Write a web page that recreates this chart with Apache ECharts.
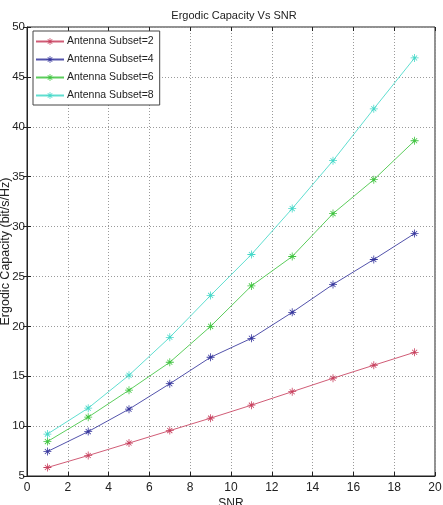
<!DOCTYPE html>
<html>
<head>
<meta charset="utf-8">
<script src="https://cdn.jsdelivr.net/npm/echarts@6/dist/echarts.min.js"></script>
<style>
  html, body { margin: 0; padding: 0; background: #fff; }
  #chart { width: 443px; height: 505px; }
</style>
</head>
<body>
<div id="chart"></div>
<script>
// SNR points where capacity was computed
const snr = [1, 3, 5, 7, 9, 11, 13, 15, 17, 19]
const subset2 = [5.85, 7.05, 8.3, 9.55, 10.8, 12.1, 13.45, 14.8, 16.1, 17.4]
const subset4 = [7.45, 9.45, 11.7, 14.25, 16.9, 18.8, 21.4, 24.2, 26.7, 29.3]
const subset6 = [8.45, 10.9, 13.6, 16.4, 20.0, 24.05, 27.0, 31.3, 34.7, 38.6]
const subset8 = [9.2, 11.8, 15.1, 18.9, 23.1, 27.2, 31.8, 36.6, 41.8, 46.9]
const seriesNames = ['Antenna Subset=2', 'Antenna Subset=4', 'Antenna Subset=6', 'Antenna Subset=8']
const colors = ['#c8405e', '#35359c', '#3fc43f', '#44d8c8']

// matlab style '*' marker
const star = 'path://M4.5 0L5.5 0L5.5 10L4.5 10Z M0 4.5L10 4.5L10 5.5L0 5.5Z M1.5 2.2L2.2 1.5L8.5 7.8L7.8 8.5Z M7.8 1.5L8.5 2.2L2.2 8.5L1.5 7.8Z'
const font = '"Liberation Sans", Arial, sans-serif'

const pairs = (ys) => snr.map((x, i) => [x, ys[i]])
const allData = [subset2, subset4, subset6, subset8]

const chart = echarts.init(document.getElementById('chart'))
const option = {
    animation: false,
    backgroundColor: '#fff',
    color: colors,
    title: {
        text: 'Ergodic Capacity Vs SNR',
        left: 229,
        textAlign: 'center',
        top: 5,
        textStyle: { fontFamily: font, fontSize: 11, fontWeight: 'normal', color: '#222' }
    },
    legend: {
        data: seriesNames,
        orient: 'vertical',
        left: 33,
        top: 31,
        padding: [5, 6, 4, 2],
        itemWidth: 28,
        itemHeight: 9,
        itemGap: 7,
        backgroundColor: '#fff',
        borderColor: '#444',
        borderWidth: 1,
        borderRadius: 0,
        textStyle: { fontFamily: font, fontSize: 10.5, color: '#222', padding: [0, 0, 0, -2] }
    },
    grid: {
        left: 27,
        right: 8,
        top: 27,
        bottom: 29,
        outerBoundsMode: 'none',
        containLabel: false,
        show: true,
        borderColor: '#222',
        borderWidth: 1
    },
    xAxis: [{
        type: 'value',
        min: 0,
        max: 20,
        interval: 2,
        name: 'SNR',
        nameLocation: 'middle',
        nameGap: 22,
        nameMoveOverlap: false,
        nameTextStyle: { fontFamily: font, fontSize: 12, color: '#222' },
        axisLine: { lineStyle: { color: '#222' } },
        axisTick: { inside: true, length: 4, lineStyle: { color: '#222' } },
        axisLabel: { fontFamily: font, fontSize: 12, color: '#222', margin: 6 },
        splitLine: { lineStyle: { type: [1, 2], color: '#9a9a9a' } }
    }, {
        type: 'value',
        position: 'top',
        min: 0,
        max: 20,
        interval: 2,
        axisLine: { show: false },
        axisTick: { inside: true, length: 4, lineStyle: { color: '#222' } },
        axisLabel: { show: false },
        splitLine: { show: false }
    }],
    yAxis: [{
        type: 'value',
        min: 5,
        max: 50,
        interval: 5,
        name: 'Ergodic Capacity (bit/s/Hz)',
        nameLocation: 'middle',
        nameGap: 15,
        nameMoveOverlap: false,
        nameTextStyle: { fontFamily: font, fontSize: 12.5, color: '#222' },
        axisLine: { lineStyle: { color: '#222' } },
        axisTick: { inside: true, length: 4, lineStyle: { color: '#222' } },
        axisLabel: { fontFamily: font, fontSize: 11.5, color: '#222', margin: 2 },
        splitLine: { lineStyle: { type: [1, 2], color: '#9a9a9a' } }
    }, {
        type: 'value',
        position: 'right',
        min: 5,
        max: 50,
        interval: 5,
        axisLine: { show: false },
        axisTick: { inside: true, length: 4, lineStyle: { color: '#222' } },
        axisLabel: { show: false },
        splitLine: { show: false }
    }],
    series: seriesNames.map((name, i) => ({
        name: name,
        type: 'line',
        data: pairs(allData[i]),
        symbol: star,
        symbolSize: 8,
        showAllSymbol: true,
        lineStyle: { width: 1, color: colors[i], opacity: 0.85 },
        itemStyle: { color: colors[i] }
    }))
}
chart.setOption(option)
</script>
</body>
</html>
